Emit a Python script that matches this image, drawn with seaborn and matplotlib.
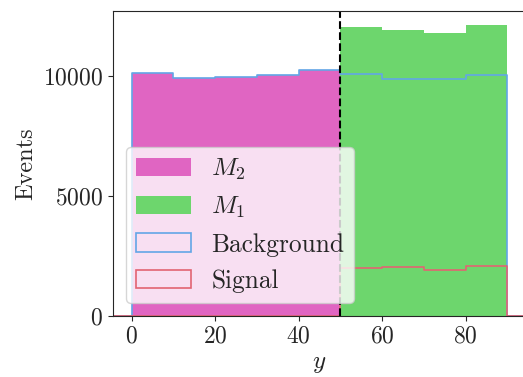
import numpy as np
import pandas as pd
import matplotlib
matplotlib.use("Agg")
import matplotlib.pyplot as plt
from matplotlib.patches import Patch
import seaborn as sns

# Bin edges of the y distribution (width 10)
edges = [0, 10, 20, 30, 40, 50, 60, 70, 80, 90]
# Events in the M2 region (y < 50) and M1 region (y >= 50)
m2_counts = [10096, 9888, 9958, 10013, 10250]
m1_counts = [12029, 11888, 11778, 12111]
# Component split over all bins
background_counts = [10096, 9888, 9958, 10013, 10250, 10054, 9861, 9861, 10028]
signal_counts = [0, 0, 0, 0, 0, 2013, 2042, 1903, 2097]
cut_value = 50

colors = {
    "M2": "#e065c2",
    "M1": "#6dd66d",
    "Background": "#62a6e6",
    "Signal": "#e26472",
}

sns.set_style("ticks")
plt.rcParams["font.family"] = "serif"
plt.rcParams["font.serif"] = ["cmr10"]
plt.rcParams["mathtext.fontset"] = "cm"
plt.rcParams["axes.formatter.use_mathtext"] = True
plt.rcParams["axes.unicode_minus"] = False

edges_arr = np.array(edges, dtype=float)
centers = (edges_arr[:-1] + edges_arr[1:]) / 2
width = edges_arr[1] - edges_arr[0]
n2 = len(m2_counts)

df_m2 = pd.DataFrame({"y": centers[:n2], "w": m2_counts})
df_m1 = pd.DataFrame({"y": centers[n2:], "w": m1_counts})

# Outline histograms get an empty bin on either side so the step closes to zero
outline_edges = [edges[0] - width] + list(edges) + [edges[-1] + width]
oe = np.array(outline_edges, dtype=float)
outline_centers = (oe[:-1] + oe[1:]) / 2
df_bg = pd.DataFrame({"y": outline_centers, "w": [0] + background_counts + [0]})
df_sig = pd.DataFrame({"y": outline_centers, "w": [0] + signal_counts + [0]})

fig = plt.figure(figsize=(5.23, 3.77), dpi=100)
ax = fig.add_axes([0.216, 0.162, 0.79, 0.809])

sns.histplot(data=df_m2, x="y", weights="w", bins=edges[:n2 + 1], element="step",
             fill=True, alpha=1, color=colors["M2"], linewidth=0, ax=ax)
sns.histplot(data=df_m1, x="y", weights="w", bins=edges[n2:], element="step",
             fill=True, alpha=1, color=colors["M1"], linewidth=0, ax=ax)
sns.histplot(data=df_bg, x="y", weights="w", bins=outline_edges, element="step",
             fill=False, color=colors["Background"], linewidth=1.2, ax=ax)
sns.histplot(data=df_sig, x="y", weights="w", bins=outline_edges, element="step",
             fill=False, color=colors["Signal"], linewidth=1.2, ax=ax)

ax.axvline(cut_value, color="black", linestyle="--", linewidth=1.5)

ax.set_xlim(-4.5, 94.5)
ax.set_ylim(0, 12700)
ax.set_xticks([0, 20, 40, 60, 80])
ax.set_yticks([0, 5000, 10000])
ax.tick_params(labelsize=17)
ax.set_xlabel("$y$", fontsize=18)
ax.set_ylabel("Events", fontsize=17.5)
ax.spines["top"].set_visible(True)
ax.spines["right"].set_visible(False)

handles = [
    Patch(facecolor=colors["M2"], edgecolor="none"),
    Patch(facecolor=colors["M1"], edgecolor="none"),
    Patch(facecolor="none", edgecolor=colors["Background"], linewidth=1.2),
    Patch(facecolor="none", edgecolor=colors["Signal"], linewidth=1.2),
]
labels = ["$M_2$", "$M_1$", "Background", "Signal"]
ax.legend(handles, labels, loc="lower left", fontsize=18.3, handlelength=2.17,
          handleheight=0.75, framealpha=0.8)

fig.savefig("out.png", dpi=100)
